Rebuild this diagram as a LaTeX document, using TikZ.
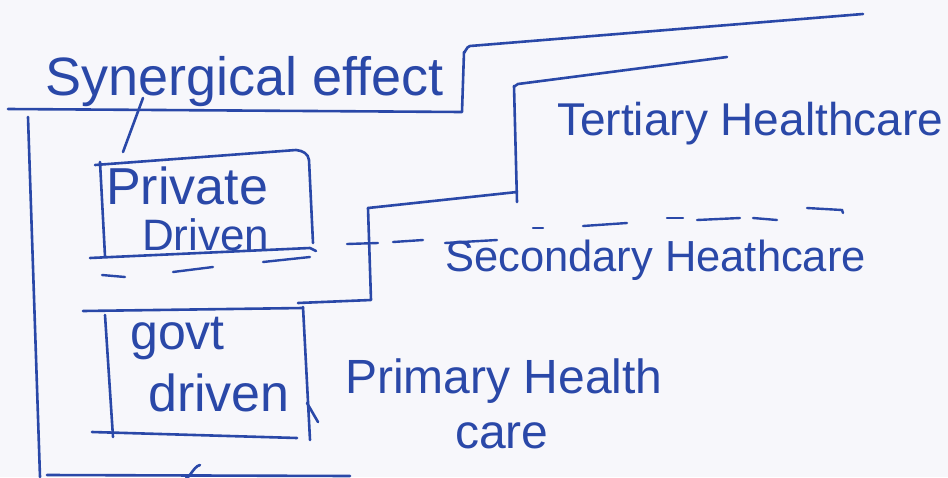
\documentclass[tikz,border=0pt]{standalone}
\usepackage{fontspec}
\setmainfont{Liberation Sans}
\definecolor{ink}{RGB}{42,72,168}
\definecolor{paper}{RGB}{247,247,251}
\begin{document}
\begin{tikzpicture}[x=1pt,y=-1pt,
  pen/.style={draw=ink,line width=2.6pt,line cap=round,line join=round},
  label/.style={text=ink,inner sep=0pt,anchor=base west},
  dashmark/.style={draw=ink,line width=2.4pt,line cap=round}]
  % sheet
  \fill[paper] (0,0) rectangle (948,477);
  \useasboundingbox (0,0) rectangle (948,477);

  % texts
  \node[label,font=\fontsize{54}{54}\selectfont] (syn) at (45,95) {Synergical effect};
  \node[label,font=\fontsize{52}{52}\selectfont] (priv) at (106,204) {Private};
  \node[label,font=\fontsize{44}{44}\selectfont] (privb) at (142,250) {Driven};
  \node[label,font=\fontsize{50}{50}\selectfont] (govt) at (130,349) {govt};
  \node[label,font=\fontsize{52}{52}\selectfont] (govtb) at (148,411) {driven};
  \node[label,font=\fontsize{46}{46}\selectfont] (tert) at (557,135) {Tertiary Healthcare};
  \node[label,font=\fontsize{43.5}{44}\selectfont] (sec) at (445,271) {Secondary Heathcare};
  \node[label,font=\fontsize{48}{48}\selectfont] (prim) at (345,393) {Primary Health};
  \node[label,font=\fontsize{48}{48}\selectfont] (primb) at (455,448) {care};

  % corner points of the brackets
  \coordinate (synL) at (8,109);
  \coordinate (synR) at (462,112);
  \coordinate (synUp) at (464,52);
  \coordinate (synTop) at (863,14);
  \coordinate (terTop) at (727,57);
  \coordinate (terCorner) at (514,86);
  \coordinate (terBot) at (517,202);
  \coordinate (secTop) at (368,208);
  \coordinate (secBot) at (371,300);
  \coordinate (secFoot) at (298,303);
  \coordinate (leftTop) at (28,117);
  \coordinate (leftBot) at (40,477);
  \coordinate (baseR) at (350,476);

  % synergy line stepping up to the top rule
  \draw[pen] (synL) -- (synR) -- (synUp) to[out=-90,in=175] (470,46) -- (synTop);
  % slash from the synergy line to the private box
  \draw[pen] (143,98) -- (123,152);

  % tertiary bracket
  \draw[pen] (terTop) -- (518,84) to[out=185,in=-85] (terCorner) -- (terBot);
  % secondary bracket
  \draw[pen] (secTop) -- (terBot |- 0,192);
  \draw[pen] (secTop) -- (secBot) -- (secFoot);
  \draw[dashmark] (347,244) -- (378,243);

  % dashes above the secondary label
  \draw[dashmark] (393,242) -- (423,240);
  \draw[dashmark] (445,243) -- (497,240);
  \draw[dashmark] (533,228) -- (543,228);
  \draw[dashmark] (583,226) -- (627,223);
  \draw[dashmark] (667,218) -- (683,218);
  \draw[dashmark] (697,220) -- (740,218);
  \draw[dashmark] (753,218) -- (777,220);
  \draw[dashmark] (807,208) -- (842,210) -- (843,213);

  % private box
  \draw[pen] (95,165) -- (296,150) to[out=-5,in=95] (309,160) -- (313,243);
  \draw[pen] (100,162) -- (105,256);
  \draw[pen] (90,258) -- (310,248) -- (316,251);
  \draw[dashmark] (102,275) -- (125,277);
  \draw[dashmark] (173,272) -- (213,267);
  \draw[dashmark] (263,262) -- (310,257);

  % government box
  \draw[pen] (83,311) -- (303,308);
  \draw[pen] (105,315) -- (113,437);
  \draw[pen] (92,432) -- (297,438);
  \draw[pen] (303,307) -- (310,440);
  \draw[pen] (307,403) -- (318,422);

  % long left rule and base line
  \draw[pen] (leftTop) -- (leftBot);
  \draw[pen] (47,475) -- (baseR);
  \draw[pen] (186,476) to[out=-80,in=190] (200,465);
\end{tikzpicture}
\end{document}
